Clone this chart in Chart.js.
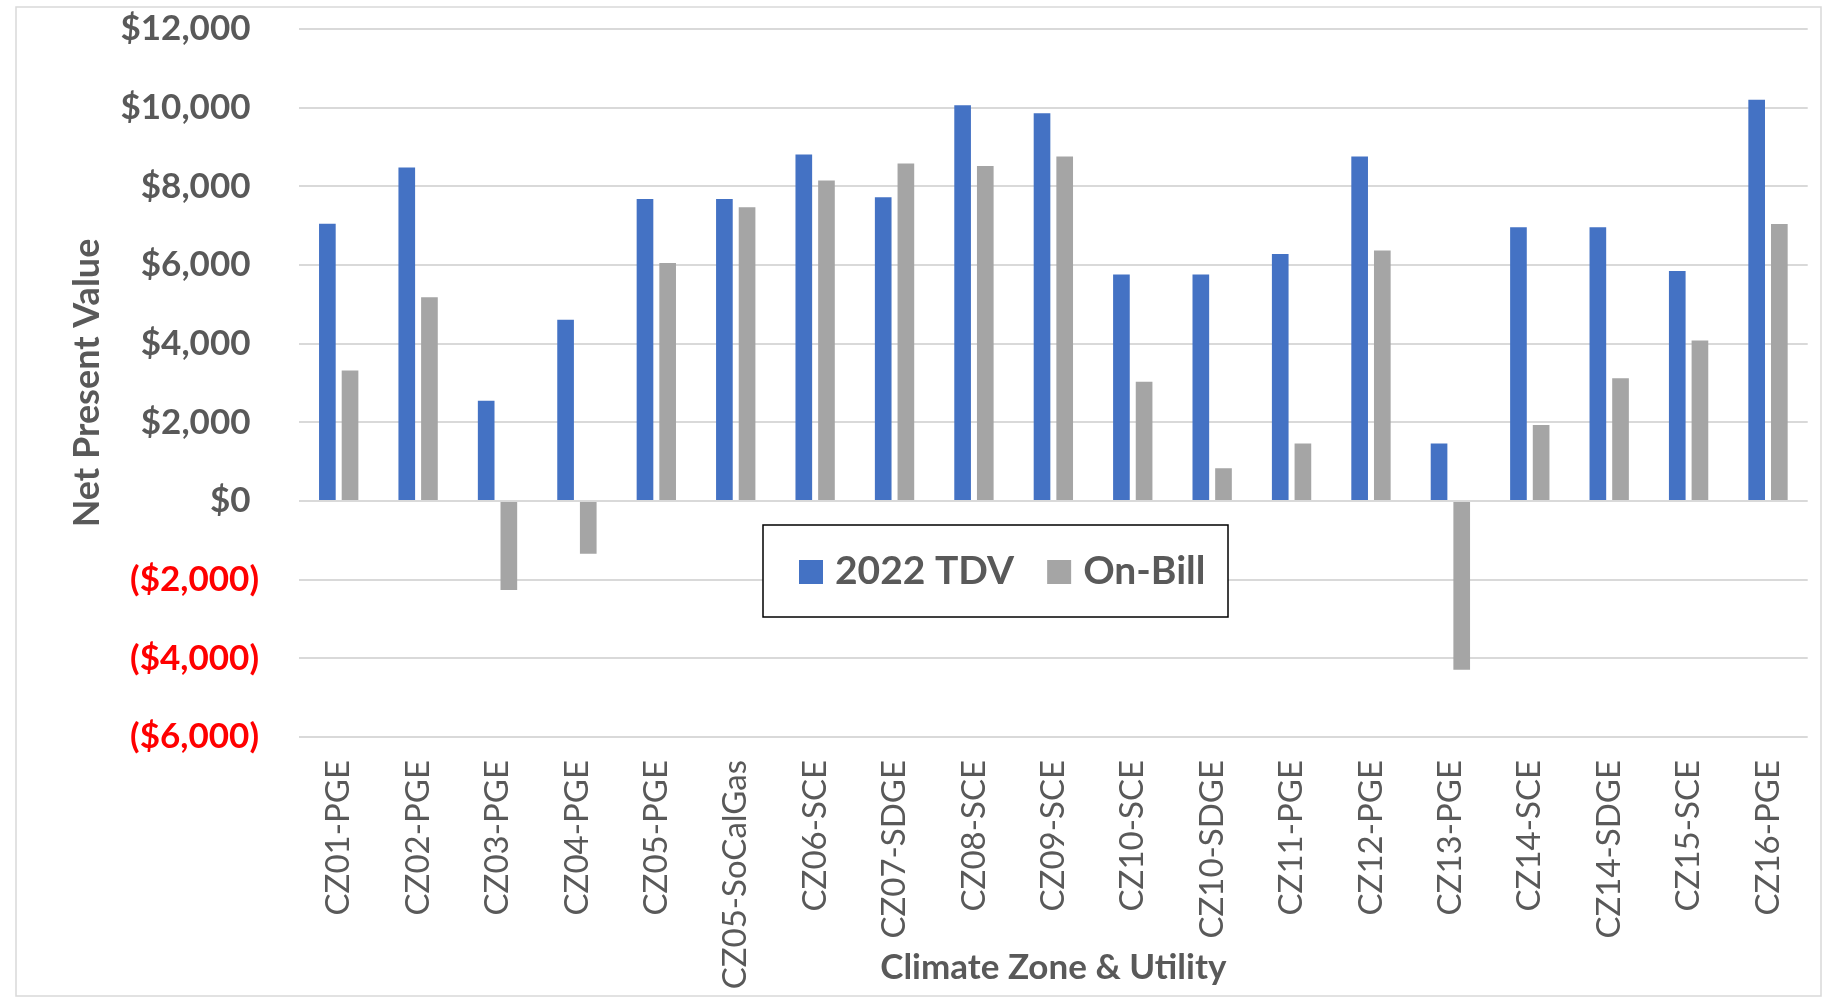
<!DOCTYPE html>
<html>
<head>
<meta charset="utf-8">
<title>Net Present Value by Climate Zone &amp; Utility</title>
<script src="https://cdn.jsdelivr.net/npm/chart.js@4.4.1/dist/chart.umd.min.js"></script>
<style>
  html, body { margin: 0; padding: 0; background: #ffffff; overflow: hidden; }
  canvas { display: block; }
</style>
</head>
<body>
<canvas id="npv" width="1823" height="998"></canvas>
<script>
// Climate zone / utility combinations along the horizontal axis
const categories = [
  'CZ01-PGE', 'CZ02-PGE', 'CZ03-PGE', 'CZ04-PGE', 'CZ05-PGE', 'CZ05-SoCalGas',
  'CZ06-SCE', 'CZ07-SDGE', 'CZ08-SCE', 'CZ09-SCE', 'CZ10-SCE', 'CZ10-SDGE',
  'CZ11-PGE', 'CZ12-PGE', 'CZ13-PGE', 'CZ14-SCE', 'CZ14-SDGE', 'CZ15-SCE', 'CZ16-PGE'
];

// Net present value ($) per case
const tdv2022 = [7050, 8480, 2550, 4610, 7680, 7680, 8810, 7720, 10060, 9860,
                 5760, 5760, 6280, 8760, 1460, 6960, 6960, 5850, 10200];
const onBill  = [3320, 5180, -2260, -1340, 6050, 7470, 8150, 8580, 8520, 8760,
                 3030, 830, 1460, 6370, -4290, 1930, 3120, 4080, 7040];

// Value axis ticks and their accounting-style labels
const yTickValues = [-6000, -4000, -2000, 0, 2000, 4000, 6000, 8000, 10000, 12000];
const yTickLabels = ['($6,000)', '($4,000)', '($2,000)', '$0', '$2,000', '$4,000',
                     '$6,000', '$8,000', '$10,000', '$12,000'];

const seriesNames = ['2022 TDV', 'On-Bill'];

const TEXT_GRAY = '#595959';
const NEG_RED = '#FF0000';
const FONT = 'Lato';

// Light outer frame around the whole chart
const chartFrame = {
  id: 'chartFrame',
  beforeDraw(chart) {
    const { ctx, width, height } = chart;
    ctx.save();
    ctx.fillStyle = '#ffffff';
    ctx.fillRect(0, 0, width, height);
    ctx.strokeStyle = '#D9D9D9';
    ctx.lineWidth = 1.5;
    ctx.strokeRect(16, 7, width - 18, height - 9);
    ctx.restore();
  }
};

// Boxed legend floating inside the plot, below the zero line
const floatingLegend = {
  id: 'floatingLegend',
  afterDraw(chart, args, opts) {
    const { ctx, chartArea: a } = chart;
    const box = { x: a.left + opts.offsetX, y: a.top + opts.offsetY, w: opts.width, h: opts.height };
    ctx.save();
    ctx.fillStyle = '#ffffff';
    ctx.fillRect(box.x, box.y, box.w, box.h);
    ctx.strokeStyle = '#000000';
    ctx.lineWidth = 1.5;
    ctx.strokeRect(box.x, box.y, box.w, box.h);

    ctx.font = `bold ${opts.fontSize}px ${FONT}`;
    ctx.textBaseline = 'middle';
    ctx.textAlign = 'left';
    const sq = opts.swatch, gap = opts.swatchGap, itemGap = opts.itemGap;
    let x = box.x + opts.innerLeft;
    const cy = box.y + box.h / 2;
    chart.data.datasets.forEach(ds => {
      ctx.fillStyle = ds.backgroundColor;
      ctx.fillRect(x, cy - sq / 2 + 1, sq, sq);
      x += sq + gap;
      ctx.fillStyle = TEXT_GRAY;
      ctx.fillText(ds.label, x, cy);
      x += ctx.measureText(ds.label).width + itemGap;
    });
    ctx.restore();
  }
};

function buildChart() {
  const ctx = document.getElementById('npv').getContext('2d');
  new Chart(ctx, {
    type: 'bar',
    data: {
      labels: categories,
      datasets: [
        { label: seriesNames[0], data: tdv2022, backgroundColor: '#4472C4',
          categoryPercentage: 0.571, barPercentage: 0.735 },
        { label: seriesNames[1], data: onBill, backgroundColor: '#A5A5A5',
          categoryPercentage: 0.571, barPercentage: 0.735 }
      ]
    },
    options: {
      responsive: false,
      animation: false,
      devicePixelRatio: 1,
      layout: { padding: { left: 15, right: 15, top: 29, bottom: 5 } },
      plugins: {
        legend: { display: false },
        tooltip: { enabled: false },
        floatingLegend: {
          offsetX: 464, offsetY: 496, width: 465, height: 92, innerLeft: 36,
          fontSize: 39, swatch: 24, swatchGap: 12, itemGap: 33
        }
      },
      scales: {
        x: {
          grid: { display: false },
          border: { display: false },
          ticks: {
            autoSkip: false,
            minRotation: 90,
            maxRotation: 90,
            padding: 15,
            color: TEXT_GRAY,
            font: { family: FONT, size: 33 }
          },
          title: {
            display: true,
            text: 'Climate Zone & Utility',
            color: TEXT_GRAY,
            font: { family: FONT, size: 35, weight: 'bold' },
            padding: { top: 0, bottom: 4 }
          },
          afterFit(scale) { scale.height = 256; }
        },
        y: {
          min: yTickValues[0],
          max: yTickValues[yTickValues.length - 1],
          afterBuildTicks(scale) {
            scale.ticks = yTickValues.map(v => ({ value: v }));
          },
          grid: { color: '#D9D9D9', lineWidth: 2, drawTicks: false },
          border: { display: false },
          ticks: {
            padding: 40,
            color: c => (c.tick && c.tick.value < 0 ? NEG_RED : TEXT_GRAY),
            font: { family: FONT, size: 35, weight: 'bold' },
            // positive labels reserve room for the closing parenthesis
            callback: value => {
              const label = yTickLabels[yTickValues.indexOf(value)];
              return value < 0 ? label : label + ' ';
            }
          },
          title: {
            display: true,
            text: 'Net Present Value',
            color: TEXT_GRAY,
            font: { family: FONT, size: 36, weight: 'bold' },
            padding: { top: 51, bottom: 0 }
          },
          afterFit(scale) {
            scale.width = 284;
            scale.paddingTop = 0;
            scale.paddingBottom = 0;
          }
        }
      }
    },
    plugins: [chartFrame, floatingLegend]
  });
}

Promise.all([
  document.fonts.load(`bold 35px ${FONT}`),
  document.fonts.load(`33px ${FONT}`)
]).then(buildChart, buildChart);
</script>
</body>
</html>
